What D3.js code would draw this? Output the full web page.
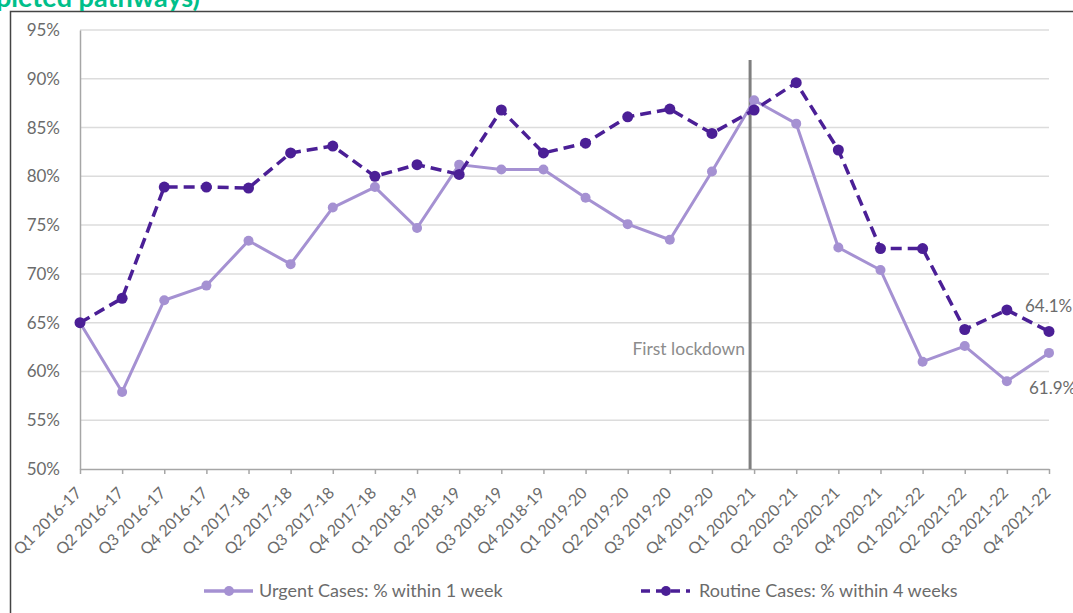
<!DOCTYPE html>
<html>
<head>
<meta charset="utf-8">
<script src="https://cdn.jsdelivr.net/npm/d3@7"></script>
<style>
  body { margin: 0; background: #fff; }
  svg { display: block; }
</style>
</head>
<body>
<div id="chart"></div>
<script>
// data
const quarters = [
  "Q1 2016-17", "Q2 2016-17", "Q3 2016-17", "Q4 2016-17",
  "Q1 2017-18", "Q2 2017-18", "Q3 2017-18", "Q4 2017-18",
  "Q1 2018-19", "Q2 2018-19", "Q3 2018-19", "Q4 2018-19",
  "Q1 2019-20", "Q2 2019-20", "Q3 2019-20", "Q4 2019-20",
  "Q1 2020-21", "Q2 2020-21", "Q3 2020-21", "Q4 2020-21",
  "Q1 2021-22", "Q2 2021-22", "Q3 2021-22", "Q4 2021-22",
];
const urgent = [
  65.0, 57.9, 67.3, 68.8, 73.4, 71.0, 76.8, 78.9, 74.7, 81.2, 80.7, 80.7,
  77.8, 75.1, 73.5, 80.5, 87.8, 85.4, 72.7, 70.4, 61.0, 62.6, 59.0, 61.9,
];
const routine = [
  65.0, 67.5, 78.9, 78.9, 78.8, 82.4, 83.1, 80.0, 81.2, 80.2, 86.8, 82.4,
  83.4, 86.1, 86.9, 84.4, 86.8, 89.6, 82.7, 72.6, 72.6, 64.3, 66.3, 64.1,
];
const yTicks = [50, 55, 60, 65, 70, 75, 80, 85, 90, 95];
const lockdownQuarter = "Q1 2020-21";

const width = 1073;
const height = 613;
const margin = { top: 30, right: 24, bottom: 144, left: 80 };
const font = "Lato, 'Open Sans', sans-serif";
const urgentColor = "#a591d2";
const routineColor = "#4b1f96";
const textColor = "#6b6b6b";

const svg = d3
  .select("#chart")
  .append("svg")
  .attr("width", width)
  .attr("height", height);

// frame + cut-off title
svg
  .append("path")
  .attr("d", `M10.5,${height} V11.5 H${width}`)
  .attr("fill", "none")
  .attr("stroke", "#444")
  .attr("stroke-width", 1.5);

svg
  .append("text")
  .attr("x", -4)
  .attr("y", 7)
  .attr("fill", "#00bf8a")
  .attr("font-family", font)
  .attr("font-weight", "bold")
  .attr("font-size", 27)
  .text("pleted pathways)");

const x = d3
  .scalePoint()
  .domain(quarters)
  .range([margin.left, width - margin.right]);

const y = d3
  .scaleLinear()
  .domain([50, 95])
  .range([height - margin.bottom, margin.top]);

// gridlines
svg
  .append("g")
  .selectAll("line")
  .data(yTicks.slice(1))
  .enter()
  .append("line")
  .attr("x1", margin.left)
  .attr("x2", width - margin.right)
  .attr("y1", (d) => y(d))
  .attr("y2", (d) => y(d))
  .attr("stroke", "#dcdcdc")
  .attr("stroke-width", 1.5);

// y axis
const yAxis = svg
  .append("g")
  .attr("transform", `translate(${margin.left},0)`)
  .call(
    d3
      .axisLeft(y)
      .tickValues(yTicks)
      .tickSize(0)
      .tickPadding(20)
      .tickFormat((d) => d + "%")
  );
yAxis.select(".domain").attr("stroke", "#a6a6a6").attr("stroke-width", 1.5);
yAxis
  .selectAll("text")
  .attr("fill", textColor)
  .attr("font-family", font)
  .attr("font-size", 17);

// x axis
const xAxis = svg
  .append("g")
  .attr("transform", `translate(0,${height - margin.bottom})`)
  .call(d3.axisBottom(x).tickSize(5).tickSizeOuter(0));
xAxis.select(".domain").attr("stroke", "#a6a6a6").attr("stroke-width", 1.5);
xAxis.selectAll(".tick line").attr("stroke", "#a6a6a6").attr("stroke-width", 1.5);
xAxis
  .selectAll("text")
  .attr("fill", textColor)
  .attr("font-family", font)
  .attr("font-size", 16)
  .attr("text-anchor", "end")
  .attr("x", 0)
  .attr("y", 0)
  .attr("dy", "0.35em")
  .attr("transform", "translate(-2,21) rotate(-45)");

// lockdown marker
const lx = x(lockdownQuarter) - 4;
svg
  .append("line")
  .attr("x1", lx)
  .attr("x2", lx)
  .attr("y1", 60)
  .attr("y2", height - margin.bottom)
  .attr("stroke", "#7f7f7f")
  .attr("stroke-width", 3);
svg
  .append("text")
  .attr("x", lx - 5)
  .attr("y", 355)
  .attr("text-anchor", "end")
  .attr("fill", "#8c8c8c")
  .attr("font-family", font)
  .attr("font-size", 17.5)
  .text("First lockdown");

const line = d3
  .line()
  .x((d, i) => x(quarters[i]))
  .y((d) => y(d));

// urgent series
svg
  .append("path")
  .datum(urgent)
  .attr("fill", "none")
  .attr("stroke", urgentColor)
  .attr("stroke-width", 3)
  .attr("stroke-linejoin", "round")
  .attr("d", line);
svg
  .append("g")
  .selectAll("circle")
  .data(urgent)
  .enter()
  .append("circle")
  .attr("cx", (d, i) => x(quarters[i]))
  .attr("cy", (d) => y(d))
  .attr("r", 5)
  .attr("fill", urgentColor);

// routine series
svg
  .append("path")
  .datum(routine)
  .attr("fill", "none")
  .attr("stroke", routineColor)
  .attr("stroke-width", 3.5)
  .attr("stroke-dasharray", "11,6")
  .attr("stroke-linejoin", "round")
  .attr("d", line);
svg
  .append("g")
  .selectAll("circle")
  .data(routine)
  .enter()
  .append("circle")
  .attr("cx", (d, i) => x(quarters[i]))
  .attr("cy", (d) => y(d))
  .attr("r", 5.5)
  .attr("fill", routineColor);

// end labels
const last = quarters.length - 1;
svg
  .append("text")
  .attr("x", x(quarters[last]) - 24)
  .attr("y", y(routine[last]) - 19)
  .attr("fill", textColor)
  .attr("font-family", font)
  .attr("font-size", 17)
  .text(routine[last].toFixed(1) + "%");
svg
  .append("text")
  .attr("x", x(quarters[last]) - 20)
  .attr("y", y(urgent[last]) + 41)
  .attr("fill", textColor)
  .attr("font-family", font)
  .attr("font-size", 17)
  .text(urgent[last].toFixed(1) + "%");

// legend
const legendItems = [
  { label: "Urgent Cases: % within 1 week", color: urgentColor, dash: null, x: 204 },
  { label: "Routine Cases: % within 4 weeks", color: routineColor, dash: "9,6", x: 641 },
];
const legend = svg
  .selectAll(".legend")
  .data(legendItems)
  .enter()
  .append("g")
  .attr("class", "legend")
  .attr("transform", (d) => `translate(${d.x},591)`);
legend
  .append("line")
  .attr("x1", 0)
  .attr("x2", 49)
  .attr("stroke", (d) => d.color)
  .attr("stroke-width", 3.5)
  .attr("stroke-dasharray", (d) => d.dash);
legend
  .append("circle")
  .attr("cx", 25)
  .attr("r", 5)
  .attr("fill", (d) => d.color);
legend
  .append("text")
  .attr("x", (d) => (d.dash ? 58 : 55))
  .attr("dy", "0.35em")
  .attr("fill", textColor)
  .attr("font-family", font)
  .attr("font-size", 18)
  .text((d) => d.label);
</script>
</body>
</html>
